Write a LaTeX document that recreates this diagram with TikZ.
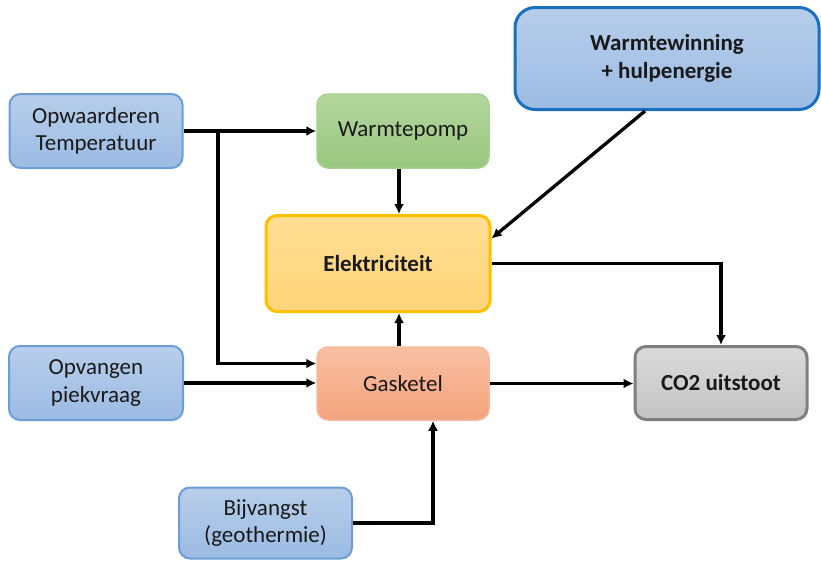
\documentclass[tikz,border=0pt]{standalone}
\usepackage{fontspec}
\setmainfont{Carlito}
\usetikzlibrary{arrows.meta}
\definecolor{bluetop}{HTML}{B8CEEB}
\definecolor{bluebot}{HTML}{9BBBE3}
\definecolor{blueline}{HTML}{6C9DD4}
\definecolor{wwline}{HTML}{1A6FBF}
\definecolor{greentop}{HTML}{B4D79D}
\definecolor{greenbot}{HTML}{99C680}
\definecolor{greenline}{HTML}{A8D08F}
\definecolor{yeltop}{HTML}{FFDE95}
\definecolor{yelbot}{HTML}{FFD479}
\definecolor{yelline}{HTML}{FFC000}
\definecolor{saltop}{HTML}{F8C0A4}
\definecolor{salbot}{HTML}{F3A37C}
\definecolor{salline}{HTML}{F6B89B}
\definecolor{greytop}{HTML}{DADADA}
\definecolor{greybot}{HTML}{C4C4C4}
\definecolor{greyline}{HTML}{7F7F7F}
\begin{document}
\begin{tikzpicture}[x=1pt,y=-1pt,
  box/.style={rounded corners=11pt, align=center, inner sep=0pt,
    font=\fontsize{23}{27.5}\selectfont, text=black!90},
  boldtext/.style={font=\fontsize{23}{27.5}\selectfont\bfseries},
  bluebox/.style={box, top color=bluetop, bottom color=bluebot, draw=blueline, line width=2pt},
  greenbox/.style={box, top color=greentop, bottom color=greenbot, draw=greenline, line width=1.5pt},
  yelbox/.style={box, top color=yeltop, bottom color=yelbot, draw=yelline, line width=3pt},
  salbox/.style={box, top color=saltop, bottom color=salbot, draw=salline, line width=1.5pt},
  greybox/.style={box, top color=greytop, bottom color=greybot, draw=greyline, line width=3pt},
  arr/.style={line width=3.3pt, -{Latex[length=10pt,width=10pt]}}
]
\useasboundingbox (0,0) rectangle (821,560);

\node[bluebox, minimum width=173pt, minimum height=74pt] (opw) at (96,131) {Opwaarderen\\Temperatuur};
\node[greenbox, minimum width=172pt, minimum height=74pt] (wp) at (403,131) {Warmtepomp};
\node[bluebox, draw=wwline, line width=3pt, rounded corners=20pt, minimum width=304pt, minimum height=102pt, boldtext] (ww) at (667,58.5) {Warmtewinning\\+ hulpenergie};
\node[yelbox, minimum width=224pt, minimum height=96pt, boldtext] (el) at (378,263.5) {Elektriciteit};
\node[bluebox, minimum width=174pt, minimum height=74pt] (opv) at (96,383) {Opvangen\\piekvraag};
\node[salbox, minimum width=172pt, minimum height=73pt] (gk) at (403,383.5) {Gasketel};
\node[greybox, minimum width=172pt, minimum height=73pt, boldtext] (co2) at (721,383) {CO2 uitstoot};
\node[bluebox, minimum width=173pt, minimum height=71pt] (bij) at (265.5,523) {Bijvangst\\(geothermie)};

\coordinate (j1) at (218,131);
\draw[arr] (opw.east) -- (wp.west);
\draw[arr] (j1) |- ([yshift=20pt]gk.west);
\draw[arr] (opv.east) -- (opv.east -| gk.west);
\draw[arr] ([xshift=-4pt]wp.south) -- ([xshift=-4pt]wp.south |- el.north);
\draw[arr] ([xshift=-4pt]gk.north) -- ([xshift=-4pt]gk.north |- el.south);
\draw[arr] ([xshift=-22pt]ww.south) -- ([yshift=25pt]el.east);
\draw[arr] (el.east) -| (co2.north);
\draw[arr] (gk.east) -- (gk.east -| co2.west);
\draw[arr] (bij.east) -| ([xshift=30pt]gk.south);
\end{tikzpicture}
\end{document}
